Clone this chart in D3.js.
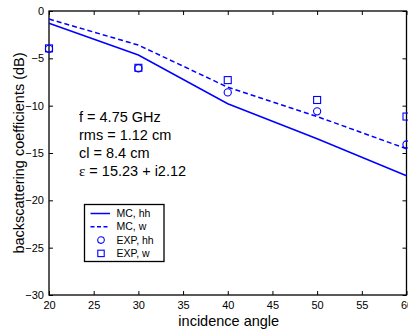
<!DOCTYPE html>
<html>
<head>
<meta charset="utf-8">
<script src="https://cdn.jsdelivr.net/npm/d3@7"></script>
<style>
  html, body { margin: 0; padding: 0; background: #fff; }
  svg { display: block; font-family: "Liberation Sans", Arial, sans-serif; }
</style>
</head>
<body>
<svg id="chart"></svg>
<script>
const width = 408, height = 333;

// data
const angles = [20, 30, 40, 50, 60];
const mc_hh = [-1.3, -4.65, -9.8, -13.5, -17.4];
const mc_vv = [-0.85, -3.6, -8.05, -11.15, -14.55];
const exp_hh = [-4.0, -6.05, -8.6, -10.6, -14.1];
const exp_vv = [-3.95, -6.0, -7.3, -9.4, -11.15];
const x_ticks = [20, 25, 30, 35, 40, 45, 50, 55, 60];
const y_ticks = [0, -5, -10, -15, -20, -25, -30];
const params = ['f = 4.75 GHz', 'rms = 1.12 cm', 'cl = 8.4 cm'];
const legend_labels = ['MC, hh', 'MC, w', 'EXP, hh', 'EXP, w'];

const margin = { left: 49, right: 1.5, top: 11, bottom: 38 };
const blue = '#0000ff';

const svg = d3.select('#chart').attr('width', width).attr('height', height);

const x = d3.scaleLinear().domain([20, 60]).range([margin.left, width - margin.right]);
const y = d3.scaleLinear().domain([-30, 0]).range([height - margin.bottom, margin.top]);

// axes, MATLAB style box with inward ticks
const tick_len = 4;
const style_axis = g => {
  g.select('.domain').remove();
  g.selectAll('.tick line').attr('stroke', '#000').attr('stroke-width', 1);
  g.selectAll('.tick text').attr('fill', '#000').attr('font-size', 11);
};

svg.append('g')
  .attr('transform', `translate(0,${y(-30)})`)
  .call(d3.axisBottom(x).tickValues(x_ticks).tickSize(-tick_len).tickPadding(6).tickFormat(d3.format('d')))
  .call(style_axis);

svg.append('g')
  .attr('transform', `translate(0,${y(0)})`)
  .call(d3.axisTop(x).tickValues(x_ticks).tickSize(-tick_len).tickFormat(''))
  .call(style_axis);

svg.append('g')
  .attr('transform', `translate(${x(20)},0)`)
  .call(d3.axisLeft(y).tickValues(y_ticks).tickSize(-tick_len).tickPadding(5).tickFormat(d3.format('d')))
  .call(style_axis);

svg.append('g')
  .attr('transform', `translate(${x(60)},0)`)
  .call(d3.axisRight(y).tickValues(y_ticks).tickSize(-tick_len).tickFormat(''))
  .call(style_axis);

svg.append('rect')
  .attr('x', x(20)).attr('y', y(0))
  .attr('width', x(60) - x(20)).attr('height', y(-30) - y(0))
  .attr('fill', 'none').attr('stroke', '#000').attr('stroke-width', 1.3);

// lines
const line = d3.line().x((d, i) => x(angles[i])).y(d => y(d));

svg.append('path').datum(mc_hh)
  .attr('d', line).attr('fill', 'none').attr('stroke', blue).attr('stroke-width', 1.5);

svg.append('path').datum(mc_vv)
  .attr('d', line).attr('fill', 'none').attr('stroke', blue).attr('stroke-width', 1.5)
  .attr('stroke-dasharray', '5,3');

// markers
svg.selectAll('.exp_hh').data(exp_hh).enter()
  .append('circle').attr('class', 'exp_hh')
  .attr('cx', (d, i) => x(angles[i])).attr('cy', d => y(d)).attr('r', 3.6)
  .attr('fill', 'none').attr('stroke', blue).attr('stroke-width', 1.1);

const sq = 7;
svg.selectAll('.exp_vv').data(exp_vv).enter()
  .append('rect').attr('class', 'exp_vv')
  .attr('x', (d, i) => x(angles[i]) - sq / 2).attr('y', d => y(d) - sq / 2)
  .attr('width', sq).attr('height', sq)
  .attr('fill', 'none').attr('stroke', blue).attr('stroke-width', 1.1);

// parameter text
const info = svg.append('text').attr('font-size', 14.5).attr('fill', '#000');
params.forEach((p, i) => {
  info.append('tspan').attr('x', 79).attr('y', 122 + i * 18).text(p);
});
const eps = info.append('tspan').attr('x', 79).attr('y', 122 + 3 * 18);
eps.append('tspan').attr('font-family', '"Liberation Serif", serif').attr('font-size', 15).text('ε');
eps.append('tspan').text(' = 15.23 + i2.12');

// legend
const legend = svg.append('g').attr('transform', 'translate(84.5,204.5)');
legend.append('rect').attr('width', 79.5).attr('height', 57)
  .attr('fill', '#fff').attr('stroke', '#000').attr('stroke-width', 1.3);

const kinds = ['solid', 'dash', 'circle', 'square'];
legend_labels.forEach((label, i) => {
  const kind = kinds[i];
  const cy = 9 + i * 13.3;
  const g = legend.append('g').attr('transform', `translate(0,${cy})`);
  if (kind === 'solid' || kind === 'dash') {
    g.append('line').attr('x1', 6).attr('x2', 25.5).attr('y1', 0).attr('y2', 0)
      .attr('stroke', blue).attr('stroke-width', 1.5)
      .attr('stroke-dasharray', kind === 'dash' ? '4,2.5' : null);
  } else if (kind === 'circle') {
    g.append('circle').attr('cx', 16.5).attr('cy', 0).attr('r', 3.3)
      .attr('fill', 'none').attr('stroke', blue).attr('stroke-width', 1.1);
  } else {
    g.append('rect').attr('x', 13.3).attr('y', -3.2).attr('width', 6.4).attr('height', 6.4)
      .attr('fill', 'none').attr('stroke', blue).attr('stroke-width', 1.1);
  }
  g.append('text').attr('x', 32).attr('y', 0).attr('dy', '0.35em')
    .attr('font-size', 10.5).attr('fill', '#000').text(label);
});

// axis labels
svg.append('text')
  .attr('x', x(40) + 1).attr('y', 326)
  .attr('text-anchor', 'middle').attr('font-size', 14.5).attr('fill', '#000')
  .text('incidence angle');

svg.append('text')
  .attr('transform', `translate(24,${y(-15)}) rotate(-90)`)
  .attr('text-anchor', 'middle').attr('font-size', 14.5).attr('fill', '#000')
  .text('backscattering coefficients (dB)');
</script>
</body>
</html>
